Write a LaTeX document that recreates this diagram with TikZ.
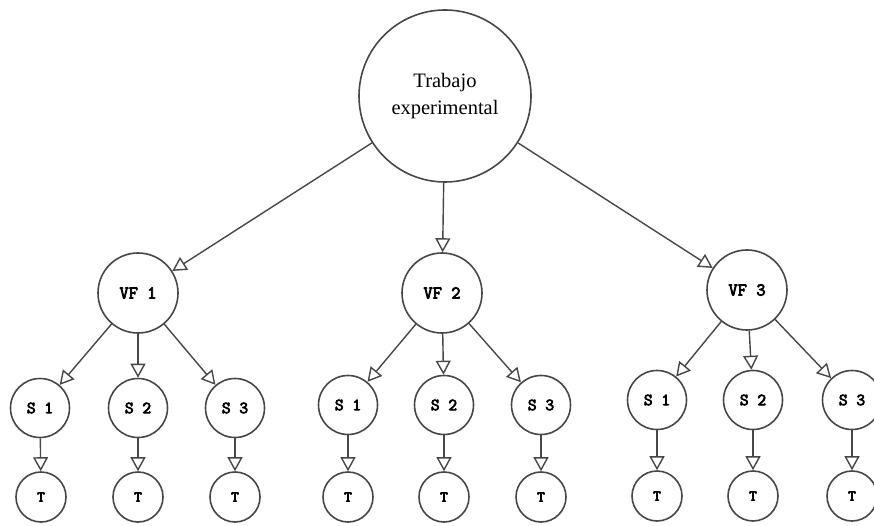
\documentclass[tikz,border=0pt]{standalone}
\usepackage{fontspec}
\setmainfont{Liberation Serif}
\newfontfamily\labfont[FakeBold=4]{Latin Modern Mono}
\usetikzlibrary{arrows.meta}
\begin{document}
\begin{tikzpicture}[x=1pt,y=-1pt,
  circ/.style={circle,draw=black!72,line width=1.6pt,inner sep=0pt,fill=white},
  topc/.style={circ,minimum size=172pt,font=\fontsize{20.5}{27}\selectfont,align=center},
  vfc/.style={circ,minimum size=80pt,font=\labfont\fontsize{18}{18}\selectfont},
  sc/.style={circ,minimum size=59pt,font=\labfont\fontsize{17}{18}\selectfont},
  tc/.style={circ,minimum size=50pt,font=\labfont\fontsize{15}{16}\selectfont},
  arr/.style={draw=black!72,line width=1.4pt,-{Triangle[open,length=14pt,width=15pt,line width=1.4pt,fill=white]}}]
\useasboundingbox (0,0) rectangle (874,526);
\node[topc] (top) at (445,96) {Trabajo\\experimental};
\node[vfc] (vf1) at (138,293) {VF 1};
\node[vfc] (vf2) at (442,293) {VF 2};
\node[vfc] (vf3) at (747,290) {VF 3};
% group 1
\node[sc] (a1) at (40,408) {S 1};
\node[sc] (a2) at (138,408) {S 2};
\node[sc] (a3) at (235,408) {S 3};
\node[tc] (at1) at (41,497) {T};
\node[tc] (at2) at (138,497) {T};
\node[tc] (at3) at (235,497) {T};
% group 2
\node[sc] (b1) at (348,405) {S 1};
\node[sc] (b2) at (444,405) {S 2};
\node[sc] (b3) at (541,405) {S 3};
\node[tc] (bt1) at (348,497) {T};
\node[tc] (bt2) at (444,497) {T};
\node[tc] (bt3) at (541,497) {T};
% group 3
\node[sc] (c1) at (657,400) {S 1};
\node[sc] (c2) at (753,400) {S 2};
\node[sc] (c3) at (852,400) {S 3};
\node[tc] (ct1) at (657,496) {T};
\node[tc] (ct2) at (753,496) {T};
\node[tc] (ct3) at (852,496) {T};
% connectors
\draw[arr] (top) -- (vf1);
\draw[arr] (top) -- (vf2);
\draw[arr] (top) -- (vf3);
\foreach \v/\g in {vf1/a,vf2/b,vf3/c}{
  \foreach \i in {1,2,3}{
    \draw[arr] (\v) -- (\g\i);
    \draw[arr] (\g\i) -- (\g t\i);
  }
}
\end{tikzpicture}
\end{document}
